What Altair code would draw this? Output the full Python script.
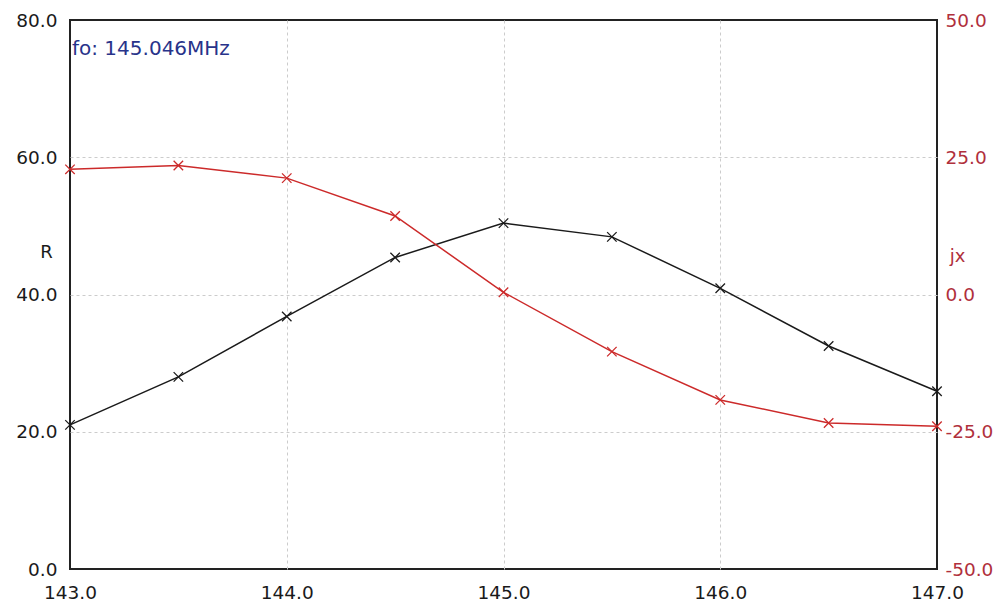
import altair as alt
import pandas as pd

freq = [143.0, 143.5, 144.0, 144.5, 145.0, 145.5, 146.0, 146.5, 147.0]
r_vals = [21.0, 28.0, 36.8, 45.4, 50.4, 48.4, 40.9, 32.5, 25.9]
jx_vals = [22.8, 23.5, 21.2, 14.3, 0.4, -10.4, -19.2, -23.4, -24.0]
x_ticks = [143, 144, 145, 146, 147]
r_ticks = [0, 20, 40, 60, 80]
jx_ticks = [-50, -25, 0, 25, 50]
annotation = "fo: 145.046MHz"

df = pd.DataFrame({"freq": freq, "R": r_vals, "jx": jx_vals})
FONT = "DejaVu Sans"
XSHAPE = "M-1,-1L1,1M-1,1L1,-1"
BLACK = "#1a1a1a"
RED = "#cc2a2a"
REDTXT = "#b0303c"
GRID = "#cccccc"

x_grid_op = {"condition": {"test": "datum.value <= 143 || datum.value >= 147", "value": 0}, "value": 1}
y_grid_op = {"condition": {"test": "datum.value <= 0 || datum.value >= 80", "value": 0}, "value": 1}

x_enc = alt.X("freq:Q",
              scale=alt.Scale(domain=[143, 147], nice=False, zero=False),
              axis=alt.Axis(values=x_ticks, format=".1f", title=None, grid=True,
                            gridColor=GRID, gridDash=[3, 3], gridWidth=1,
                            gridOpacity=x_grid_op,
                            domain=False, ticks=False, labelFlush=False,
                            labelOverlap=False, labelPadding=14,
                            labelFont=FONT, labelFontSize=18.5, labelColor=BLACK))

y_left = alt.Y("R:Q",
               scale=alt.Scale(domain=[0, 80], nice=False),
               axis=alt.Axis(values=r_ticks, format=".1f", title="R", titleAngle=0,
                             titleX=-24, titleY=237, titleAlign="center",
                             titleBaseline="alphabetic", titleFont=FONT,
                             titleFontSize=18, titleFontWeight="normal", titleColor=BLACK,
                             grid=True, gridColor=GRID, gridDash=[3, 3], gridWidth=1,
                             gridOpacity=y_grid_op,
                             domain=False, ticks=False, labelPadding=13,
                             labelOverlap=False, labelFont=FONT, labelFontSize=18.5,
                             labelColor=BLACK))

y_right = alt.Y("jx:Q",
                scale=alt.Scale(domain=[-50, 50], nice=False),
                axis=alt.Axis(orient="right", values=jx_ticks,
                              labelExpr="(datum.value < 0 ? '-' : '') + format(abs(datum.value), '.1f')",
                              title="jx",
                              titleAngle=0, titleX=20, titleY=241, titleAlign="center",
                              titleBaseline="alphabetic", titleFont=FONT, titleFontSize=18,
                              titleFontWeight="normal", titleColor=REDTXT,
                              grid=False, domain=False, ticks=False, labelPadding=8,
                              labelOverlap=False, labelFont=FONT, labelFontSize=18.5,
                              labelColor=REDTXT))

base = alt.Chart(df)
r_line = base.mark_line(color=BLACK, strokeWidth=1.5).encode(x=x_enc, y=y_left)
r_pts = base.mark_point(shape=XSHAPE, size=90, filled=False, color=BLACK,
                        strokeWidth=1.3, opacity=1).encode(x="freq:Q", y="R:Q")
jx_line = base.mark_line(color=RED, strokeWidth=1.5).encode(x="freq:Q", y=y_right)
jx_pts = base.mark_point(shape=XSHAPE, size=90, filled=False, color=RED,
                         strokeWidth=1.3, opacity=1).encode(x="freq:Q", y="jx:Q")

left_layer = alt.layer(r_line, r_pts)
right_layer = alt.layer(jx_line, jx_pts)

txt = alt.Chart(pd.DataFrame({"t": [annotation]})).mark_text(
    align="left", baseline="middle", font=FONT, fontSize=20, color="#28338a"
).encode(text="t:N", x=alt.value(2), y=alt.value(29))

chart = alt.layer(left_layer, right_layer, txt).resolve_scale(y="independent").properties(
    width=867, height=549,
    autosize=alt.AutoSizeParams(type="none"),
    padding={"left": 62, "top": 12, "right": 60, "bottom": 38},
).configure_view(stroke="#222222", strokeWidth=2)

chart.save("out.html", embed_options={"renderer": "svg", "actions": False})
